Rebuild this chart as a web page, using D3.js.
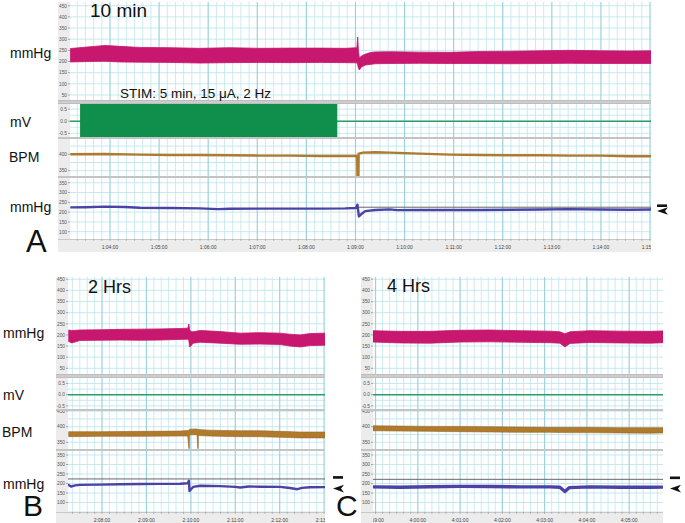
<!DOCTYPE html>
<html>
<head>
<meta charset="utf-8">
<script src="https://cdn.jsdelivr.net/npm/d3@7"></script>
<style>
  body { margin: 0; background: #fff; }
  svg { display: block; font-family: "Liberation Sans", Arial, sans-serif; }
</style>
</head>
<body>
<svg id="chart" width="685" height="523"></svg>
<script>
  // ---- datos (tiempo en minutos desde la hora 0) ----
  // Panel A, 10 min
  const aPink = [
    [63.19, 198, 258], [63.59, 200, 266], [63.90, 201, 272], [64.20, 198, 268], [64.61, 197, 263],
    [65.22, 196, 262], [65.83, 193, 259], [66.44, 195, 262], [67.06, 196, 259], [67.67, 195, 260],
    [68.28, 196, 260], [68.79, 195, 259], [69.03, 194, 262], [69.045, 185, 310], [69.06, 170, 250],
    [69.08, 162, 215], [69.12, 175, 225], [69.20, 184, 233], [69.30, 187, 240], [69.40, 190, 243],
    [69.70, 191, 244], [70.31, 192, 242], [70.93, 191, 241], [71.54, 191, 245], [72.15, 190, 246],
    [72.76, 191, 248], [73.37, 192, 250], [73.98, 191, 248], [74.59, 191, 247], [75.02, 191, 248]
  ];
  const aStim = [63.39, 68.63];
  const aBpm = [
    [63.19, 400], [63.90, 401], [64.61, 399], [65.22, 398], [65.83, 398], [66.44, 397], [67.06, 396],
    [67.67, 396], [68.28, 395], [69.01, 395], [69.035, 395], [69.04, 334], [69.06, 334], [69.065, 402],
    [69.15, 405], [69.40, 406], [69.70, 405], [70.31, 402], [70.93, 399], [71.54, 398], [72.15, 397],
    [72.76, 397], [73.37, 396], [73.98, 396], [74.59, 394], [75.02, 394]
  ];
  const aBlue = [
    [63.19, 224], [63.50, 225], [63.90, 228], [64.30, 226], [64.61, 222], [65.22, 221], [65.83, 219],
    [66.20, 215], [66.44, 217], [67.06, 218], [67.67, 218], [68.28, 218], [68.79, 219], [69.01, 221],
    [69.04, 238], [69.07, 178], [69.12, 190], [69.20, 205], [69.40, 211], [69.70, 214], [69.85, 210],
    [70.31, 211], [70.93, 211], [71.54, 211], [72.15, 212], [72.76, 213], [73.37, 215], [73.98, 213],
    [74.59, 212], [75.02, 213]
  ];
  const aRef = [69.05, 225];
  const aTimeTicks = [63, 64, 65, 66, 67, 68, 69, 70, 71, 72, 73, 74, 75];

  // Panel B, 2 Hrs
  const bPink = [
    [127.25, 170, 222], [127.32, 164, 220], [127.50, 175, 222], [127.95, 176, 223], [128.41, 177, 225],
    [128.86, 176, 226], [129.31, 177, 227], [129.76, 180, 229], [129.93, 181, 230], [129.955, 175, 249],
    [129.97, 146, 225], [130.00, 150, 215], [130.05, 163, 214], [130.21, 167, 220], [130.66, 163, 215],
    [131.11, 158, 208], [131.56, 159, 210], [132.01, 157, 208], [132.23, 150, 203], [132.46, 146, 200],
    [132.68, 152, 206], [133.02, 154, 208]
  ];
  const bBpm = [
    [127.25, 368, 384], [127.95, 369, 384], [128.86, 369, 385], [129.76, 370, 386], [129.93, 370, 388],
    [129.955, 330, 388], [129.965, 330, 390], [129.97, 374, 392], [130.10, 374, 393], [130.14, 374, 392],
    [130.155, 330, 392], [130.165, 330, 392], [130.17, 372, 391], [130.40, 370, 389], [130.66, 369, 388],
    [131.11, 368, 387], [131.56, 368, 387], [132.01, 366, 385], [132.46, 364, 383], [133.02, 364, 383]
  ];
  const bBlue = [
    [127.23, 195], [127.30, 184], [127.40, 190], [127.50, 193], [127.95, 194], [128.41, 196],
    [128.86, 197], [129.31, 198], [129.76, 199], [129.93, 201], [129.955, 214], [129.97, 160],
    [130.05, 182], [130.21, 188], [130.66, 186], [131.00, 182], [131.11, 179], [131.30, 184],
    [131.56, 183], [132.01, 182], [132.23, 176], [132.40, 170], [132.50, 177], [132.68, 180], [133.02, 181]
  ];
  const bRef = [127.23, 224];
  const bTimeTicks = [128, 129, 130, 131, 132, 133];

  // Panel C, 4 Hrs
  const cPink = [
    [238.94, 168, 219], [239.58, 164, 216], [240.29, 163, 216], [241.00, 168, 221], [241.71, 169, 222],
    [242.42, 167, 219], [243.13, 165, 217], [243.36, 163, 214], [243.48, 146, 205], [243.60, 162, 214],
    [244.07, 166, 219], [244.78, 164, 217], [245.49, 163, 216], [245.80, 165, 218]
  ];
  const cBpm = [
    [238.94, 387, 403], [239.58, 386, 402], [240.29, 385, 401], [241.00, 384, 401], [241.71, 383, 400],
    [242.42, 382, 399], [243.13, 382, 398], [243.48, 381, 398], [244.07, 381, 398], [244.78, 380, 397],
    [245.49, 379, 397], [245.80, 380, 397]
  ];
  const cBlue = [
    [238.94, 182], [239.58, 180], [240.29, 183], [241.00, 185], [241.71, 184], [242.42, 182],
    [243.13, 182], [243.36, 180], [243.48, 158], [243.58, 178], [244.07, 182], [244.78, 180],
    [245.49, 180], [245.80, 181]
  ];
  const cRef = [238.94, 222];
  const cTimeTicks = [239, 240, 241, 242, 243, 244, 245];

  // ticks de los ejes y
  const pinkTicks = [50, 100, 150, 200, 250, 300, 350, 400, 450];
  const mvTicks = [-0.5, 0, 0.5];
  const bpmTicks = [350, 400, 450];
  const blueTicks = [100, 150, 200, 250, 300, 350];

  const svg = d3.select("#chart");
  const defs = svg.append("defs");

  const colores = {
    pink: "#C8176F", green: "#0F8F4B", greenLine: "#2A9D68", bpm: "#B07A2C",
    blue: "#4B42A6", grid: "#BFE6EE", gridMajor: "#9AD3DE", sep: "#C4C4C4", strip: "#ECECEC"
  };

  const paneles = [
    { id: "A", x: [70, 651], t: [63.185, 75.02], axisY: 239,
      rows: { pink: [2, 100, 27.6, 466.6], mv: [104, 137, -0.65, 0.71], bpm: [139, 176, 333.8, 446.6], blue: [178, 239, 62.8, 374] },
      pink: aPink, stim: aStim, bpmLine: aBpm, blue: aBlue, ref: aRef, ticks: aTimeTicks, blueW: 2.4, mark: 6 },
    { id: "B", x: [68, 325], t: [127.234, 133.02], axisY: 512,
      rows: { pink: [277, 374, 24.4, 460.3], mv: [378, 409, -0.64, 0.745], bpm: [411, 449, 328.5, 450.3], blue: [451, 512, 50, 371] },
      pink: bPink, bpmBand: bBpm, blue: bBlue, ref: bRef, ticks: bTimeTicks, blueW: 2.4, mark: 8 },
    { id: "C", x: [373, 663], t: [238.94, 245.8], axisY: 512,
      rows: { pink: [277, 374, 24.4, 460.3], mv: [378, 409, -0.64, 0.745], bpm: [411, 449, 328.5, 450.3], blue: [451, 512, 50, 371] },
      pink: cPink, bpmBand: cBpm, blue: cBlue, ref: cRef, ticks: cTimeTicks, blueW: 3.4, mark: 7 }
  ];

  const pasoGrid = { pink: 50, mv: 0.25, bpm: 25, blue: 50 };
  const ticksY = { pink: pinkTicks, mv: mvTicks, bpm: bpmTicks, blue: blueTicks };

  function fmtTiempo(t) {
    const h = Math.floor(t / 60), m = Math.round(t - h * 60);
    return h + ":" + String(m).padStart(2, "0") + ":00";
  }
  function fmtY(k, v) {
    return k === "mv" ? v.toFixed(1) : String(v);
  }

  function dibujaPanel(p) {
    const g = svg.append("g");
    const x = d3.scaleLinear().domain(p.t).range(p.x);
    const y = {};
    Object.entries(p.rows).forEach(([k, r]) => {
      y[k] = d3.scaleLinear().domain([r[2], r[3]]).range([r[1], r[0]]);
      defs.append("clipPath").attr("id", `clip-${p.id}-${k}`)
        .append("rect").attr("x", p.x[0]).attr("y", r[0]).attr("width", p.x[1] - p.x[0]).attr("height", r[1] - r[0]);
    });

    const minutos = d3.range(Math.ceil(p.t[0] * 6), Math.floor(p.t[1] * 6) + 1).map(i => i / 6);
    const esMayor = d => Math.abs(d - Math.round(d)) < 1e-6;

    Object.entries(p.rows).forEach(([k, r]) => {
      const fila = g.append("g").attr("clip-path", `url(#clip-${p.id}-${k})`);
      fila.append("rect").attr("x", p.x[0]).attr("y", r[0]).attr("width", p.x[1] - p.x[0]).attr("height", r[1] - r[0]).attr("fill", "#fff");
      const paso = pasoGrid[k];
      const hs = d3.range(Math.ceil(r[2] / paso), Math.floor(r[3] / paso) + 1).map(i => i * paso);
      fila.selectAll(".h").data(hs).enter().append("line")
        .attr("x1", p.x[0]).attr("x2", p.x[1]).attr("y1", d => y[k](d)).attr("y2", d => y[k](d))
        .attr("stroke", colores.grid).attr("stroke-width", 0.9);
      fila.selectAll(".v").data(minutos).enter().append("line")
        .attr("x1", d => x(d)).attr("x2", d => x(d)).attr("y1", r[0]).attr("y2", r[1])
        .attr("stroke", d => esMayor(d) ? colores.gridMajor : colores.grid)
        .attr("stroke-width", d => esMayor(d) ? 1.2 : 0.8);

      if (k === "pink") {
        fila.append("path").datum(p.pink)
          .attr("d", d3.area().x(d => x(d[0])).y0(d => y.pink(d[1])).y1(d => y.pink(d[2])))
          .attr("fill", colores.pink).attr("stroke", colores.pink).attr("stroke-width", 0.8);
      }
      if (k === "mv") {
        fila.append("line").attr("x1", p.x[0]).attr("x2", p.x[1]).attr("y1", y.mv(0)).attr("y2", y.mv(0))
          .attr("stroke", colores.greenLine).attr("stroke-width", 1.4);
        if (p.stim) {
          fila.append("rect").attr("x", x(p.stim[0])).attr("width", x(p.stim[1]) - x(p.stim[0]))
            .attr("y", y.mv(r[3])).attr("height", y.mv(r[2]) - y.mv(r[3])).attr("fill", colores.green);
        }
      }
      if (k === "bpm") {
        if (p.bpmLine) {
          fila.append("path").datum(p.bpmLine)
            .attr("d", d3.line().x(d => x(d[0])).y(d => y.bpm(d[1])))
            .attr("fill", "none").attr("stroke", colores.bpm).attr("stroke-width", 2.4);
        }
        if (p.bpmBand) {
          fila.append("path").datum(p.bpmBand)
            .attr("d", d3.area().x(d => x(d[0])).y0(d => y.bpm(d[1])).y1(d => y.bpm(d[2])))
            .attr("fill", colores.bpm).attr("stroke", "#9A6425").attr("stroke-width", 0.6);
        }
      }
      if (k === "blue") {
        fila.append("line").attr("x1", x(p.ref[0])).attr("x2", p.x[1]).attr("y1", y.blue(p.ref[1])).attr("y2", y.blue(p.ref[1]))
          .attr("stroke", "#666").attr("stroke-width", 1);
        fila.append("path").datum(p.blue)
          .attr("d", d3.line().x(d => x(d[0])).y(d => y.blue(d[1])))
          .attr("fill", "none").attr("stroke", colores.blue).attr("stroke-width", p.blueW).attr("stroke-linejoin", "round");
      }

      // franja del eje y
      g.append("rect").attr("x", p.x[0] - 12).attr("y", r[0]).attr("width", 12).attr("height", r[1] - r[0]).attr("fill", colores.strip);
      const visibles = ticksY[k].filter(v => v >= r[2] && v <= r[3]);
      g.selectAll(null).data(visibles).enter().append("text")
        .attr("x", p.x[0] - 3).attr("y", d => y[k](d) + 1.8).attr("text-anchor", "end")
        .attr("font-size", 4.8).attr("fill", "#555").text(d => fmtY(k, d));
      g.selectAll(null).data(visibles).enter().append("line")
        .attr("x1", p.x[0] - 2).attr("x2", p.x[0]).attr("y1", d => y[k](d)).attr("y2", d => y[k](d))
        .attr("stroke", "#777").attr("stroke-width", 0.6);
    });

    // separadores
    const keys = Object.keys(p.rows);
    for (let i = 0; i < keys.length - 1; i++) {
      const a = p.rows[keys[i]][1], b = p.rows[keys[i + 1]][0];
      g.append("rect").attr("x", p.x[0] - 12).attr("y", a).attr("width", p.x[1] - p.x[0] + 12).attr("height", b - a)
        .attr("fill", i === 0 ? "#D6D6D6" : "#fff");
      g.append("line").attr("x1", p.x[0] - 12).attr("x2", p.x[1]).attr("y1", (a + b) / 2).attr("y2", (a + b) / 2)
        .attr("stroke", colores.sep).attr("stroke-width", i === 0 ? 1.2 : 1.8);
      if (i === 0) {
        g.append("line").attr("x1", p.x[0] - 12).attr("x2", p.x[1]).attr("y1", a + 0.5).attr("y2", a + 0.5).attr("stroke", "#BDBDBD").attr("stroke-width", 1);
        g.append("line").attr("x1", p.x[0] - 12).attr("x2", p.x[1]).attr("y1", b - 0.5).attr("y2", b - 0.5).attr("stroke", "#BDBDBD").attr("stroke-width", 1);
      }
    }

    // eje de tiempo
    defs.append("clipPath").attr("id", `clip-${p.id}-t`)
      .append("rect").attr("x", p.x[0]).attr("y", p.axisY).attr("width", p.x[1] - p.x[0]).attr("height", 14);
    g.append("rect").attr("x", p.x[0] - 12).attr("y", p.axisY).attr("width", p.x[1] - p.x[0] + 12).attr("height", 13).attr("fill", colores.strip);
    g.append("line").attr("x1", p.x[0] - 12).attr("x2", p.x[1]).attr("y1", p.axisY + 0.5).attr("y2", p.axisY + 0.5).attr("stroke", "#C8C8C8");
    const tg = g.append("g").attr("clip-path", `url(#clip-${p.id}-t)`);
    tg.selectAll("line").data(minutos).enter().append("line")
      .attr("x1", d => x(d)).attr("x2", d => x(d)).attr("y1", p.axisY).attr("y2", p.axisY + 2)
      .attr("stroke", "#888").attr("stroke-width", 0.5);
    tg.selectAll("text").data(p.ticks).enter().append("text")
      .attr("x", d => x(d)).attr("y", p.axisY + 9.5).attr("text-anchor", "middle")
      .attr("font-size", 5).attr("fill", "#444").text(d => fmtTiempo(d));

    // marcador de referencia a la derecha
    const xm = p.x[1] + p.mark;
    const yb = y.blue(p.ref[1]) - 1.5;
    const ya = y.blue(p.blue[p.blue.length - 1][1]) + 1.5;
    g.append("rect").attr("x", xm).attr("y", yb - 1.3).attr("width", 10).attr("height", 2.6).attr("fill", "#111");
    g.append("path").attr("d", `M${xm},${ya} L${xm + 11},${ya - 3.8} L${xm + 8},${ya} L${xm + 11},${ya + 3.8} Z`).attr("fill", "#111");
  }

  paneles.forEach(dibujaPanel);

  // textos
  const txt = (x, y, s, size, anchor) => svg.append("text").attr("x", x).attr("y", y)
    .attr("font-size", size).attr("fill", "#111").attr("text-anchor", anchor || "start").text(s);

  txt(10, 58, "mmHg", 14);
  txt(10, 127, "mV", 14);
  txt(9, 162, "BPM", 14);
  txt(10, 212, "mmHg", 14);
  txt(26, 252, "A", 31);
  txt(90, 17, "10 min", 19);
  txt(120, 98, "STIM: 5 min, 15 \u03bcA, 2 Hz", 13.5);

  txt(3, 338, "mmHg", 14);
  txt(3, 400, "mV", 14);
  txt(2, 437, "BPM", 14);
  txt(3, 489, "mmHg", 14);
  txt(23, 516, "B", 30);
  txt(88, 293, "2 Hrs", 18);

  txt(336, 516, "C", 30);
  txt(387, 292, "4 Hrs", 18);
</script>
</body>
</html>
